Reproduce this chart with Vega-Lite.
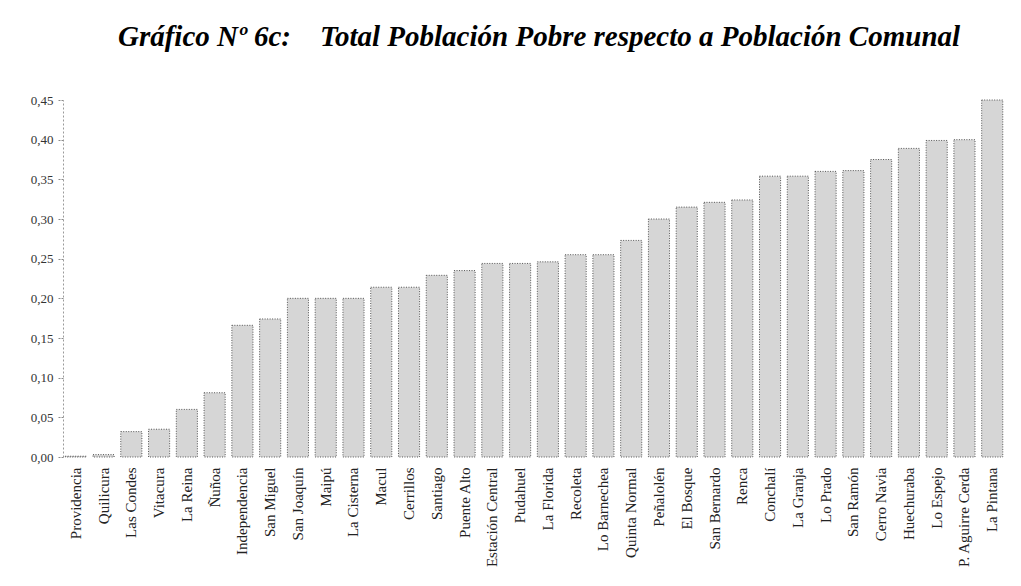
{
  "$schema": "https://vega.github.io/schema/vega-lite/v6.json",
  "autosize": "none",
  "width": 942,
  "height": 357,
  "padding": {"left": 63, "top": 100, "right": 16, "bottom": 129},
  "background": "white",
  "title": {
    "text": "Gráfico Nº 6c:\u00a0\u00a0\u00a0\u00a0Total Población Pobre respecto a Población Comunal",
    "font": "Liberation Serif",
    "fontSize": 29,
    "fontWeight": "bold",
    "fontStyle": "italic",
    "color": "#000000",
    "anchor": "middle",
    "frame": "group",
    "offset": 42,
    "dx": 5
  },
  "data": {
    "values": [
      {"comuna": "Providencia", "valor": 0.001},
      {"comuna": "Quilicura", "valor": 0.003},
      {"comuna": "Las Condes", "valor": 0.032},
      {"comuna": "Vitacura", "valor": 0.035},
      {"comuna": "La Reina", "valor": 0.060},
      {"comuna": "Ñuñoa", "valor": 0.081},
      {"comuna": "Independencia", "valor": 0.166},
      {"comuna": "San Miguel", "valor": 0.174},
      {"comuna": "San Joaquín", "valor": 0.200},
      {"comuna": "Maipú", "valor": 0.200},
      {"comuna": "La Cisterna", "valor": 0.200},
      {"comuna": "Macul", "valor": 0.214},
      {"comuna": "Cerrillos", "valor": 0.214},
      {"comuna": "Santiago", "valor": 0.229},
      {"comuna": "Puente Alto", "valor": 0.235},
      {"comuna": "Estación Central", "valor": 0.244},
      {"comuna": "Pudahuel", "valor": 0.244},
      {"comuna": "La Florida", "valor": 0.246},
      {"comuna": "Recoleta", "valor": 0.255},
      {"comuna": "Lo Barnechea", "valor": 0.255},
      {"comuna": "Quinta Normal", "valor": 0.273},
      {"comuna": "Peñalolén", "valor": 0.300},
      {"comuna": "El Bosque", "valor": 0.315},
      {"comuna": "San Bernardo", "valor": 0.321},
      {"comuna": "Renca", "valor": 0.324},
      {"comuna": "Conchalí", "valor": 0.354},
      {"comuna": "La Granja", "valor": 0.354},
      {"comuna": "Lo Prado", "valor": 0.360},
      {"comuna": "San Ramón", "valor": 0.361},
      {"comuna": "Cerro Navia", "valor": 0.375},
      {"comuna": "Huechuraba", "valor": 0.389},
      {"comuna": "Lo Espejo", "valor": 0.399},
      {"comuna": "P. Aguirre Cerda", "valor": 0.400},
      {"comuna": "La Pintana", "valor": 0.450}
    ]
  },
  "mark": {
    "type": "bar",
    "fill": "#d6d6d6",
    "stroke": "#555555",
    "strokeWidth": 1,
    "strokeDash": [1, 1.5]
  },
  "encoding": {
    "x": {
      "field": "comuna",
      "type": "nominal",
      "sort": null,
      "scale": {"paddingInner": 0.24, "paddingOuter": 0.08},
      "axis": {
        "title": null,
        "labelAngle": -90,
        "labelAlign": "right",
        "labelBaseline": "middle",
        "labelFont": "Liberation Serif",
        "labelFontSize": 15,
        "labelColor": "#222222",
        "labelPadding": 10,
        "ticks": false,
        "domain": false
      }
    },
    "y": {
      "field": "valor",
      "type": "quantitative",
      "scale": {"domain": [0, 0.45], "nice": false},
      "axis": {
        "title": null,
        "values": [0, 0.05, 0.1, 0.15, 0.2, 0.25, 0.3, 0.35, 0.4, 0.45],
        "labelExpr": "replace(format(datum.value, '.2f'), '.', ',')",
        "labelFont": "Liberation Serif",
        "labelFontSize": 13,
        "labelColor": "#333333",
        "labelPadding": 4,
        "grid": false,
        "domain": true,
        "domainColor": "#9a9a9a",
        "domainDash": [2, 2],
        "tickColor": "#8a8a8a",
        "tickSize": 6,
        "tickDash": [2, 1]
      }
    }
  },
  "config": {"view": {"stroke": null}}
}
